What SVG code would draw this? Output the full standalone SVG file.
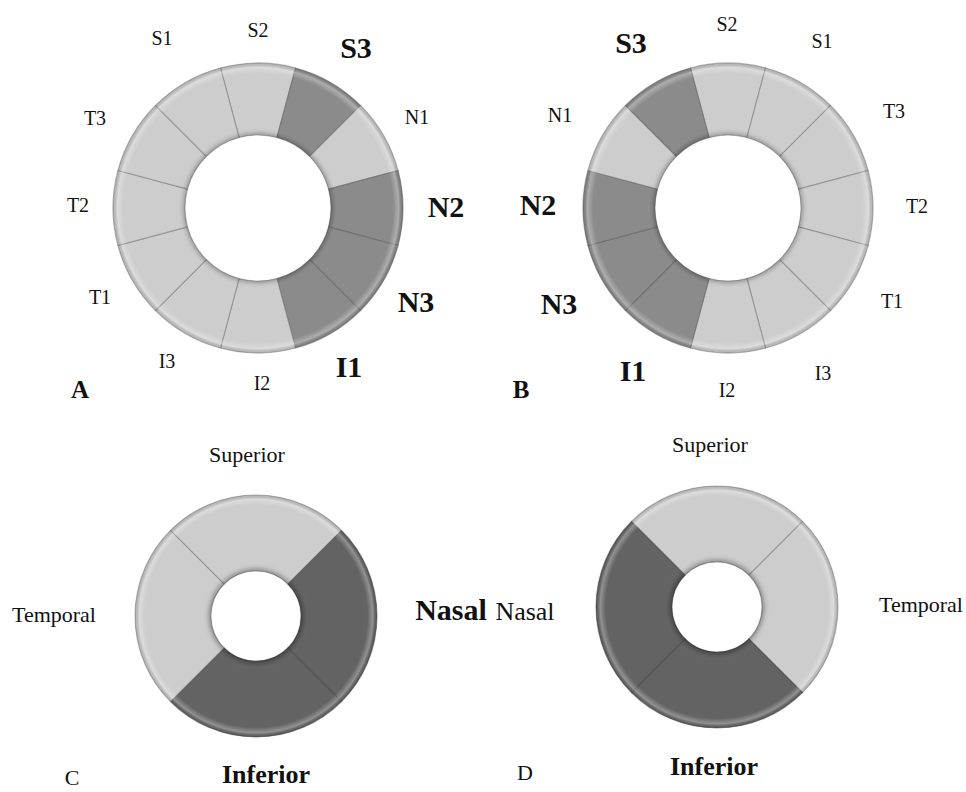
<svg xmlns="http://www.w3.org/2000/svg" xmlns:xlink="http://www.w3.org/1999/xlink" width="966" height="792" viewBox="0 0 966 792">
<style>
  text { font-family: "Liberation Serif", "Times New Roman", serif; fill: #111; text-anchor: middle; }
  .r { font-size: 20px; }
  .b { font-size: 30px; font-weight: bold; }
  .lt { font-size: 22px; }
  .lb { font-size: 26px; font-weight: bold; }
  .pl { font-size: 25px; font-weight: bold; }
  .light { fill: #cdcdcd; stroke: #6e6e6e; stroke-opacity: 0.5; stroke-width: 1.1; }
  .mid { fill: #8b8b8b; stroke: #5a5a5a; stroke-opacity: 0.5; stroke-width: 1.1; }
  .dark { fill: #636363; stroke: #3c3c3c; stroke-opacity: 0.5; stroke-width: 1.1; }
</style>
<defs>
  <path id="seg12" d="M -37.529 -140.059 A 145 145 0 0 1 37.529 -140.059 L 18.894 -70.513 A 73 73 0 0 0 -18.894 -70.513 Z"/>
  <path id="seg4" d="M -85.56 -85.56 A 121 121 0 0 1 85.56 -85.56 L 31.82 -31.82 A 45 45 0 0 0 -31.82 -31.82 Z"/>
  <radialGradient id="sh12" gradientUnits="userSpaceOnUse" cx="0" cy="0" r="145">
    <stop offset="0.50" stop-color="#000" stop-opacity="0.25"/>
    <stop offset="0.53" stop-color="#000" stop-opacity="0.05"/>
    <stop offset="0.56" stop-color="#fff" stop-opacity="0"/>
    <stop offset="0.93" stop-color="#fff" stop-opacity="0"/>
    <stop offset="0.97" stop-color="#fff" stop-opacity="0.3"/>
    <stop offset="1" stop-color="#000" stop-opacity="0.12"/>
  </radialGradient>
  <radialGradient id="sh4" gradientUnits="userSpaceOnUse" cx="0" cy="0" r="121">
    <stop offset="0.372" stop-color="#000" stop-opacity="0.28"/>
    <stop offset="0.41" stop-color="#000" stop-opacity="0.05"/>
    <stop offset="0.45" stop-color="#fff" stop-opacity="0"/>
    <stop offset="0.92" stop-color="#fff" stop-opacity="0"/>
    <stop offset="0.965" stop-color="#fff" stop-opacity="0.3"/>
    <stop offset="1" stop-color="#000" stop-opacity="0.12"/>
  </radialGradient>
  <path id="ring12" fill-rule="evenodd" d="M -145 0 A 145 145 0 1 0 145 0 A 145 145 0 1 0 -145 0 Z M -73 0 A 73 73 0 1 0 73 0 A 73 73 0 1 0 -73 0 Z"/>
  <path id="ring4" fill-rule="evenodd" d="M -121 0 A 121 121 0 1 0 121 0 A 121 121 0 1 0 -121 0 Z M -45 0 A 45 45 0 1 0 45 0 A 45 45 0 1 0 -45 0 Z"/>
</defs>
<rect width="966" height="792" fill="#ffffff"/>

<!-- Diagram A -->
<g id="donutA" transform="translate(258 208)">
  <use href="#seg12" class="light" transform="rotate(0)"/>
  <use href="#seg12" class="mid" transform="rotate(30)"/>
  <use href="#seg12" class="light" transform="rotate(60)"/>
  <use href="#seg12" class="mid" transform="rotate(90)"/>
  <use href="#seg12" class="mid" transform="rotate(120)"/>
  <use href="#seg12" class="mid" transform="rotate(150)"/>
  <use href="#seg12" class="light" transform="rotate(180)"/>
  <use href="#seg12" class="light" transform="rotate(210)"/>
  <use href="#seg12" class="light" transform="rotate(240)"/>
  <use href="#seg12" class="light" transform="rotate(270)"/>
  <use href="#seg12" class="light" transform="rotate(300)"/>
  <use href="#seg12" class="light" transform="rotate(330)"/>
  <use href="#ring12" fill="url(#sh12)"/>
</g>
<g id="labelsA">
  <text class="r" x="162" y="45">S1</text>
  <text class="r" x="258" y="37">S2</text>
  <text class="b" x="356" y="58">S3</text>
  <text class="r" x="417" y="124">N1</text>
  <text class="b" x="446" y="217">N2</text>
  <text class="b" x="416" y="312">N3</text>
  <text class="b" x="349" y="377">I1</text>
  <text class="r" x="262" y="390">I2</text>
  <text class="r" x="167" y="368">I3</text>
  <text class="r" x="100" y="304">T1</text>
  <text class="r" x="78" y="212">T2</text>
  <text class="r" x="95" y="125">T3</text>
  <text class="pl" x="80" y="398">A</text>
</g>

<!-- Diagram B -->
<g id="donutB" transform="translate(728 208)">
  <use href="#seg12" class="light" transform="rotate(0)"/>
  <use href="#seg12" class="light" transform="rotate(30)"/>
  <use href="#seg12" class="light" transform="rotate(60)"/>
  <use href="#seg12" class="light" transform="rotate(90)"/>
  <use href="#seg12" class="light" transform="rotate(120)"/>
  <use href="#seg12" class="light" transform="rotate(150)"/>
  <use href="#seg12" class="light" transform="rotate(180)"/>
  <use href="#seg12" class="mid" transform="rotate(210)"/>
  <use href="#seg12" class="mid" transform="rotate(240)"/>
  <use href="#seg12" class="mid" transform="rotate(270)"/>
  <use href="#seg12" class="light" transform="rotate(300)"/>
  <use href="#seg12" class="mid" transform="rotate(330)"/>
  <use href="#ring12" fill="url(#sh12)"/>
</g>
<g id="labelsB">
  <text class="b" x="631" y="53">S3</text>
  <text class="r" x="727" y="31">S2</text>
  <text class="r" x="822" y="48">S1</text>
  <text class="r" x="560" y="122">N1</text>
  <text class="r" x="894" y="118">T3</text>
  <text class="b" x="538" y="215">N2</text>
  <text class="r" x="917" y="213">T2</text>
  <text class="b" x="559" y="314">N3</text>
  <text class="r" x="892" y="308">T1</text>
  <text class="b" x="633" y="381">I1</text>
  <text class="r" x="727" y="397">I2</text>
  <text class="r" x="823" y="380">I3</text>
  <text class="pl" x="521" y="398">B</text>
</g>

<!-- Diagram C -->
<g id="donutC" transform="translate(256 616)">
  <use href="#seg4" class="light" transform="rotate(0)"/>
  <use href="#seg4" class="dark" transform="rotate(90)"/>
  <use href="#seg4" class="dark" transform="rotate(180)"/>
  <use href="#seg4" class="light" transform="rotate(270)"/>
  <use href="#ring4" fill="url(#sh4)"/>
</g>
<g id="labelsC">
  <text class="lt" x="247" y="462">Superior</text>
  <text class="lt" x="54" y="622">Temporal</text>
  <text class="b" x="451" y="620">Nasal</text>
  <text class="lb" x="266" y="783">Inferior</text>
  <text class="lt" x="72" y="785">C</text>
</g>
<g id="labelsNasalD">
  <text style="font-size:26px" x="525" y="620">Nasal</text>
</g>

<!-- Diagram D -->
<g id="donutD" transform="translate(717 607)">
  <use href="#seg4" class="light" transform="rotate(0)"/>
  <use href="#seg4" class="light" transform="rotate(90)"/>
  <use href="#seg4" class="dark" transform="rotate(180)"/>
  <use href="#seg4" class="dark" transform="rotate(270)"/>
  <use href="#ring4" fill="url(#sh4)"/>
</g>
<g id="labelsD">
  <text class="lt" x="710" y="452">Superior</text>
  <text class="lt" x="921" y="612">Temporal</text>
  <text class="lb" x="714" y="775">Inferior</text>
  <text class="lt" x="525" y="780">D</text>
</g>
</svg>
